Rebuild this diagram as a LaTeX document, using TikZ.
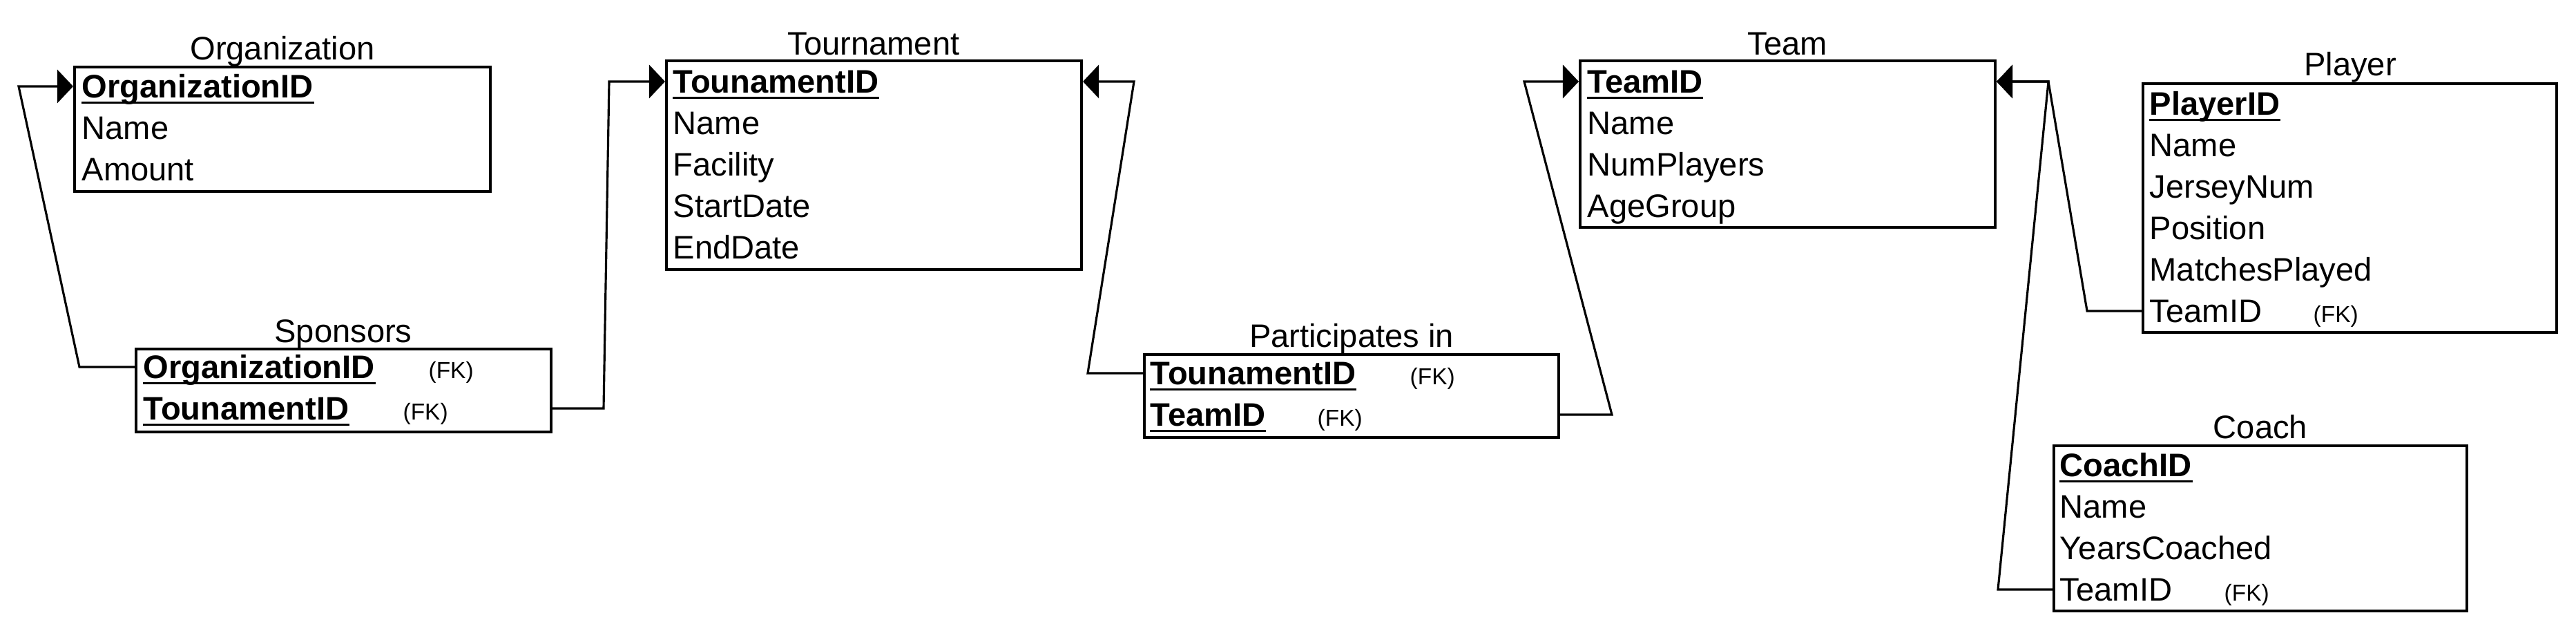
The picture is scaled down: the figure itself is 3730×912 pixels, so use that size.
\documentclass[tikz,border=0pt]{standalone}
\usepackage{fontspec}
\setmainfont{Liberation Sans}
\usetikzlibrary{arrows.meta,fit,calc}
\begin{document}
\begin{tikzpicture}[x=0.01cm,y=-0.01cm,
  tbl/.style={draw, line width=1.15pt, inner sep=0pt},
  ttl/.style={anchor=base, inner sep=0pt, font=\fontsize{13.4pt}{16pt}\selectfont},
  fld/.style={anchor=base west, inner sep=0pt, text height=0.32cm, text depth=0pt, font=\fontsize{13.4pt}{16pt}\selectfont},
  key/.style={fld, font=\fontsize{13.4pt}{16pt}\selectfont\bfseries},
  fk/.style={anchor=base west, inner sep=0pt, font=\fontsize{9.5pt}{11pt}\selectfont},
  conn/.style={line width=0.9pt},
  arr/.style={conn, -{Triangle[length=0.23cm,width=0.48cm]}},
  ul/.style={line width=0.85pt}
]
\useasboundingbox (0,0) rectangle (3730,912);

% ---------- Organization
\node[tbl, fit={(108,97) (710,277)}] (org) {};
\node[ttl] (org-t) at (409,87) {Organization};
\node[key] (org-r1) at (118,141) {OrganizationID};
\node[fld] (org-r2) at (118,201) {Name};
\node[fld] (org-r3) at (118,261) {Amount};

% ---------- Sponsors
\node[tbl, fit={(197,505) (798,625)}] (spo) {};
\node[ttl] (spo-t) at (497,495) {Sponsors};
\node[key] (spo-r1) at (207,547) {OrganizationID};
\node[key] (spo-r2) at (207,607) {TounamentID};
\node[fk] (spo-f1) at (620,547) {(FK)};
\node[fk] (spo-f2) at (583,607) {(FK)};

% ---------- Tournament
\node[tbl, fit={(965,88) (1566,390)}] (tou) {};
\node[ttl] (tou-t) at (1265,79) {Tournament};
\node[key] (tou-r1) at (974,134) {TounamentID};
\node[fld] (tou-r2) at (974,194) {Name};
\node[fld] (tou-r3) at (974,254) {Facility};
\node[fld] (tou-r4) at (974,314) {StartDate};
\node[fld] (tou-r5) at (974,374) {EndDate};

% ---------- Participates in
\node[tbl, fit={(1657,513) (2257,633)}] (par) {};
\node[ttl] (par-t) at (1957,502) {Participates in};
\node[key] (par-r1) at (1665,556) {TounamentID};
\node[key] (par-r2) at (1665,616) {TeamID};
\node[fk] (par-f1) at (2041,556) {(FK)};
\node[fk] (par-f2) at (1907,616) {(FK)};

% ---------- Team
\node[tbl, fit={(2288,88) (2889,329)}] (tea) {};
\node[ttl] (tea-t) at (2588,80) {Team};
\node[key] (tea-r1) at (2298,134) {TeamID};
\node[fld] (tea-r2) at (2298,194) {Name};
\node[fld] (tea-r3) at (2298,254) {NumPlayers};
\node[fld] (tea-r4) at (2298,314) {AgeGroup};

% ---------- Player
\node[tbl, fit={(3103,121) (3702,481)}] (pla) {};
\node[ttl] (pla-t) at (3403,110) {Player};
\node[key] (pla-r1) at (3112,166) {PlayerID};
\node[fld] (pla-r2) at (3112,226) {Name};
\node[fld] (pla-r3) at (3112,286) {JerseyNum};
\node[fld] (pla-r4) at (3112,346) {Position};
\node[fld] (pla-r5) at (3112,406) {MatchesPlayed};
\node[fld] (pla-r6) at (3112,466) {TeamID};
\node[fk] (pla-f6) at (3349,466) {(FK)};

% ---------- Coach
\node[tbl, fit={(2974,645) (3572,884)}] (coa) {};
\node[ttl] (coa-t) at (3273,634) {Coach};
\node[key] (coa-r1) at (2982,689) {CoachID};
\node[fld] (coa-r2) at (2982,749) {Name};
\node[fld] (coa-r3) at (2982,809) {YearsCoached};
\node[fld] (coa-r4) at (2982,869) {TeamID};
\node[fk] (coa-f4) at (3220,869) {(FK)};

% ---------- underlines of key fields
\foreach \k in {org-r1,spo-r1,spo-r2,tou-r1,par-r1,par-r2,tea-r1,pla-r1,coa-r1}
  \draw[ul] ([yshift=-0.075cm]\k.base west) -- ([yshift=-0.075cm]\k.base east);

% ---------- connectors
\draw[arr] (spo.west |- spo-r1.west) -- (115,0 |- spo-r1.west) -- (27,0 |- org-r1.west) -- (org.west |- org-r1.west);
\draw[arr] (spo.east |- spo-r2.west) -- (874,0 |- spo-r2.west) -- (882,0 |- tou-r1.west) -- (tou.west |- tou-r1.west);
\draw[arr] (par.west |- par-r1.west) -- (1575,0 |- par-r1.west) -- (1642,0 |- tou-r1.west) -- (tou.east |- tou-r1.west);
\draw[arr] (par.east |- par-r2.west) -- (2334,0 |- par-r2.west) -- (2207,0 |- tea-r1.west) -- (tea.west |- tea-r1.west);
\draw[arr] (pla.west |- pla-r6.west) -- (3022,0 |- pla-r6.west) -- (2966,0 |- tea-r1.west) -- (tea.east |- tea-r1.west);
\draw[arr] (coa.west |- coa-r4.west) -- (2893,0 |- coa-r4.west) -- (2966,0 |- tea-r1.west) -- (tea.east |- tea-r1.west);
\end{tikzpicture}
\end{document}
